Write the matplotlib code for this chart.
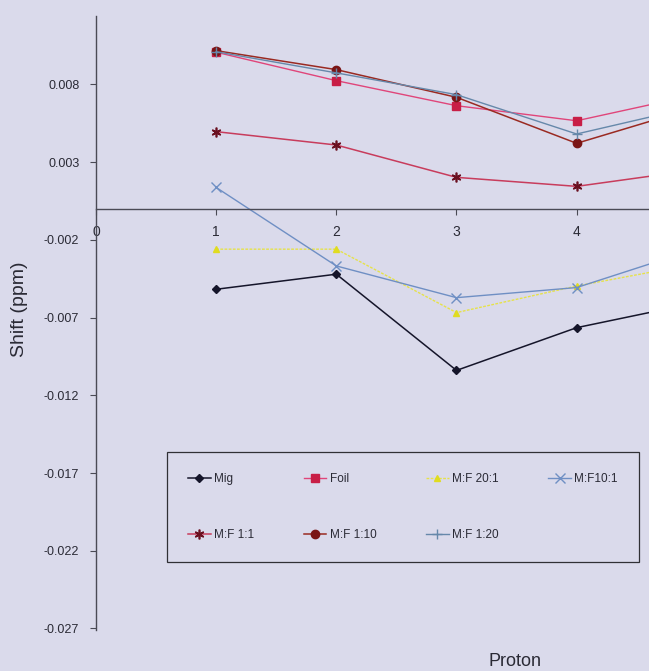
import matplotlib
matplotlib.use("Agg")
import matplotlib.pyplot as plt

plt.rcParams['font.family'] = ['Liberation Sans', 'DejaVu Sans']
plt.rcParams['axes.unicode_minus'] = False

# data (proton 5 is cut off by the right edge)
protons = [1, 2, 3, 4, 5]
mig = [-0.00518, -0.00421, -0.0104, -0.00765, -0.00604]
foil = [0.01007, 0.00824, 0.00663, 0.00566, 0.00735]
mf_20_1 = [-0.0026, -0.0026, -0.00668, -0.00497, -0.00353]
mf_10_1 = [0.00137, -0.00368, -0.00572, -0.00507, -0.00257]
mf_1_1 = [0.00496, 0.0041, 0.00202, 0.00144, 0.00251]
mf_1_10 = [0.01017, 0.00895, 0.00717, 0.00421, 0.00653]
mf_1_20 = [0.0101, 0.00874, 0.00734, 0.00481, 0.0066]

yticks = [-0.027, -0.022, -0.017, -0.012, -0.007, -0.002, 0.003, 0.008]
ytick_labels = ['-0.027', '-0.022', '-0.017', '-0.012', '-0.007', '-0.002', '0.003', '0.008']
xticks = [0, 1, 2, 3, 4]

bg = '#dadaeb'
txt = '#2a2a35'

fig = plt.figure(figsize=(6.49, 6.71), dpi=100, facecolor=bg)
# axes runs past the right edge, like the cropped scan
ax = fig.add_axes([96/649, 1 - 630/671, 721/649, 614/671], facecolor=bg)

l_mig, = ax.plot(protons, mig, color='#15152a', lw=1.1, marker='D', ms=4.5, label='Mig')
l_foil, = ax.plot(protons, foil, color='#e0457a', lw=1.0, marker='s', ms=5.5,
                  mfc='#c81e46', mec='#c81e46', label='Foil')
l_20, = ax.plot(protons, mf_20_1, color='#e6e24a', lw=1.0, ls=(0, (2, 1)), marker='^', ms=5,
                mfc='#e0dc20', mec='#e0dc20', label='M:F 20:1')
l_10, = ax.plot(protons, mf_10_1, color='#6f8fc4', lw=1.0, marker='x', ms=7, mew=1.0,
                label='M:F10:1')
l_11, = ax.plot(protons, mf_1_1, color='#c83c5c', lw=1.1, marker=(6, 2, 0), ms=7, mew=1.2,
                mec='#6a1020', label='M:F 1:1')
l_110, = ax.plot(protons, mf_1_10, color='#9a2a22', lw=1.1, marker='o', ms=6,
                 mfc='#7a1515', mec='#7a1515', label='M:F 1:10')
l_120, = ax.plot(protons, mf_1_20, color='#6688aa', lw=1.0, marker='+', ms=7, mew=1.0,
                 label='M:F 1:20')

ax.set_xlim(0, 6)
ax.set_ylim(-0.0271, 0.0124)
ax.set_yticks(yticks)
ax.set_yticklabels(ytick_labels)
ax.set_xticks(xticks)
ax.set_xticklabels([str(v) for v in xticks])
ax.get_xticklabels()[0].set_color('#8a8a95')

for s in ['top', 'right']:
    ax.spines[s].set_visible(False)
ax.spines['bottom'].set_position(('data', 0))
for s in ['left', 'bottom']:
    ax.spines[s].set_color('#4a4a55')
    ax.spines[s].set_linewidth(1.0)

ax.tick_params(axis='y', direction='out', length=4, width=0.8, color='#4a4a55',
               pad=8, labelsize=9, labelcolor=txt)
ax.tick_params(axis='x', direction='out', length=4, width=0.8, color='#4a4a55',
               pad=8, labelsize=10, labelcolor=txt)

fig.text(20/649, 1 - 309/671, 'Shift (ppm)', rotation=90, ha='center', va='center',
         fontsize=14, color=txt)
fig.text(515/649, 1 - 662/671, 'Proton', ha='center', va='center', fontsize=13, color=txt)

# legend filled column-wise, so order handles to read row by row
handles = [l_mig, l_11, l_foil, l_110, l_20, l_120, l_10]
leg = fig.legend(handles=handles, labels=[h.get_label() for h in handles], ncol=4,
                 loc='upper left', bbox_to_anchor=(167/649, 1 - 452/671), borderaxespad=0,
                 fontsize=8.5, frameon=True, fancybox=False, framealpha=1,
                 facecolor=bg, edgecolor='#303035', borderpad=1.8, labelspacing=3.7,
                 handlelength=1.9, handletextpad=0.3, columnspacing=4.2)
leg.get_frame().set_linewidth(0.9)
for t in leg.get_texts():
    t.set_color(txt)

fig.savefig('out.png', dpi=100, facecolor=bg)
